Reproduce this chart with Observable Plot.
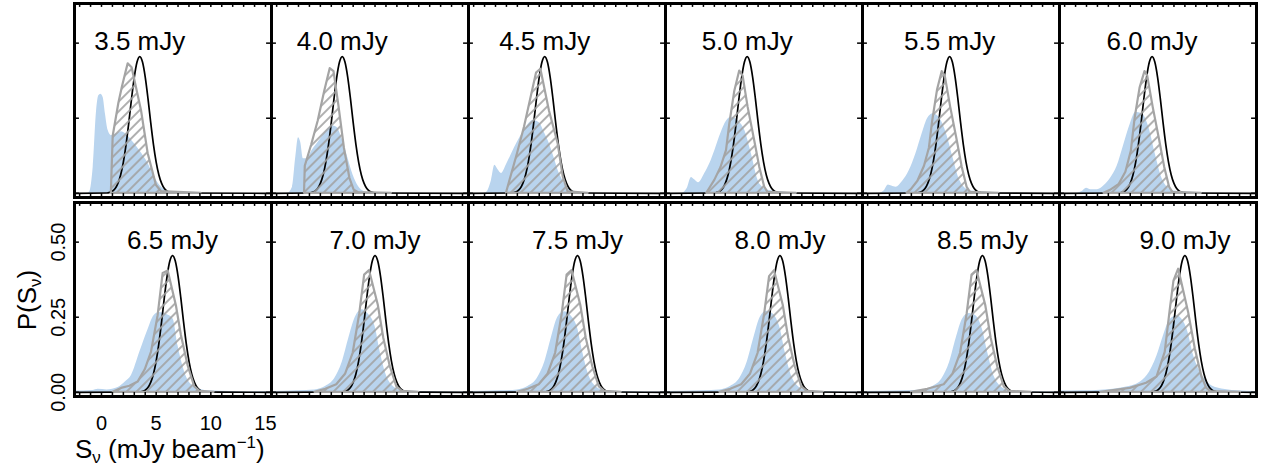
<!DOCTYPE html>
<html><head><meta charset="utf-8">
<script src="https://cdn.jsdelivr.net/npm/d3@7"></script>
<script src="https://cdn.jsdelivr.net/npm/@observablehq/plot@0.6"></script>
<style>body{margin:0;background:#fff;}</style>
</head><body><div id="chart"></div>
<script>
// ---------- data ----------
const fluxes = [3.5, 4.0, 4.5, 5.0, 5.5, 6.0, 6.5, 7.0, 7.5, 8.0, 8.5, 9.0];
const panelLabels = ["3.5 mJy","4.0 mJy","4.5 mJy","5.0 mJy","5.5 mJy","6.0 mJy","6.5 mJy","7.0 mJy","7.5 mJy","8.0 mJy","8.5 mJy","9.0 mJy"];
const xTickValues = [0, 5, 10, 15];
const yTickValues = [0, 0.25, 0.5];
const yTickLabels = ["0.00", "0.25", "0.50"];
const minorXTicks = [-2,-1,0,1,2,3,4,5,6,7,8,9,10,11,12,13,14,15];

// black model curve, read relative to the true flux
const modelOffsets = [-3,-2.75,-2.5,-2.25,-2,-1.75,-1.5,-1.25,-1,-0.75,-0.5,-0.25,0,0.25,0.5,0.75,1,1.25,1.5,1.75,2,2.25,2.5,2.75,3];
const modelValues  = [0.001,0.003,0.007,0.016,0.033,0.061,0.104,0.163,0.236,0.316,0.387,0.437,0.455,0.437,0.387,0.316,0.236,0.163,0.104,0.061,0.033,0.016,0.007,0.003,0.001];

// light-blue filled distributions [S, P]
const blue35 = [[-2.47,0],[-1.3,0],[-1.07,0.005],[-0.76,0.087],[-0.45,0.275],[-0.25,0.325],[-0.07,0.33],[0.15,0.319],[0.36,0.264],[0.61,0.209],[0.91,0.192],[1.37,0.198],[1.83,0.205],[2.44,0.19],[2.9,0.17],[3.5,0.142],[4.11,0.109],[4.57,0.076],[5.03,0.043],[5.48,0.021],[6.1,0.005],[6.8,0],[15.55,0]];
const blue40 = [[-2.47,0],[-1.0,0],[-0.55,0.02],[-0.25,0.12],[0.0,0.185],[0.2,0.17],[0.45,0.115],[0.8,0.115],[1.2,0.14],[1.7,0.165],[2.2,0.19],[2.7,0.215],[3.1,0.225],[3.5,0.22],[4.0,0.18],[4.5,0.12],[5.0,0.06],[5.5,0.022],[6.0,0.006],[6.8,0],[15.55,0]];
const blue45 = [[-2.47,0],[-1.2,0],[-0.83,0.003],[-0.37,0.043],[-0.06,0.093],[0.2,0.08],[0.55,0.066],[1.0,0.095],[1.46,0.13],[2.0,0.17],[2.65,0.21],[3.44,0.242],[4.0,0.235],[4.5,0.2],[4.93,0.165],[5.35,0.12],[5.73,0.076],[6.2,0.04],[6.64,0.016],[7.3,0.006],[7.86,0.003],[8.5,0],[15.55,0]];
const blue50 = [[-2.47,0],[-1.0,0],[-0.5,0.015],[-0.1,0.053],[0.2,0.045],[0.55,0.035],[1.12,0.066],[1.6,0.1],[2.04,0.142],[2.6,0.2],[3.1,0.24],[3.56,0.253],[4.2,0.24],[4.78,0.21],[5.39,0.131],[6.0,0.043],[6.5,0.018],[6.92,0.01],[8.7,0.003],[9.5,0],[15.55,0]];
const blue55 = [[-2.47,0],[-1.0,0],[-0.5,0.008],[-0.1,0.028],[0.2,0.024],[0.6,0.02],[1.2,0.04],[1.8,0.075],[2.4,0.13],[3.0,0.2],[3.5,0.25],[4.0,0.265],[4.6,0.25],[5.2,0.2],[5.8,0.12],[6.4,0.045],[6.9,0.018],[7.5,0.008],[9.5,0.003],[10.5,0],[15.55,0]];
const blue60 = [[-2.47,0],[-1.0,0],[-0.4,0.006],[0.0,0.017],[0.4,0.012],[1.0,0.012],[1.6,0.025],[2.2,0.05],[2.8,0.09],[3.4,0.16],[4.0,0.23],[4.5,0.27],[5.1,0.265],[5.7,0.22],[6.3,0.13],[6.9,0.05],[7.4,0.02],[8.0,0.008],[10,0.003],[11,0],[15.55,0]];
const blue65 = [[-2.47,0.004],[-0.8,0.006],[-0.3,0.01],[0.5,0.008],[1.52,0.016],[2.2,0.035],[2.74,0.056],[3.5,0.133],[4.27,0.21],[4.8,0.255],[5.3,0.266],[5.9,0.26],[6.55,0.244],[7.0,0.155],[7.61,0.067],[8.0,0.035],[8.53,0.018],[9.75,0.005],[12,0.003],[15.55,0.002]];
const blue70 = [[-2.47,0.003],[0,0.005],[1.5,0.008],[2.5,0.02],[3.3,0.045],[4.0,0.1],[4.6,0.18],[5.2,0.25],[5.8,0.275],[6.4,0.26],[7.0,0.22],[7.5,0.13],[8.0,0.06],[8.6,0.022],[9.3,0.008],[11,0.003],[15.55,0.002]];
const blue75 = [[-2.47,0.003],[0.5,0.005],[2,0.008],[3,0.02],[3.8,0.045],[4.5,0.1],[5.1,0.18],[5.7,0.25],[6.3,0.268],[6.9,0.255],[7.5,0.215],[8.0,0.13],[8.5,0.06],[9.1,0.022],[9.8,0.008],[11.5,0.003],[15.55,0.002]];
const blue80 = [[-2.47,0.003],[1,0.005],[2.5,0.008],[3.5,0.02],[4.3,0.045],[5.0,0.1],[5.6,0.18],[6.2,0.25],[6.8,0.27],[7.4,0.26],[8.0,0.215],[8.5,0.13],[9.0,0.06],[9.6,0.022],[10.3,0.008],[12,0.003],[15.55,0.002]];
const blue85 = [[-2.47,0.003],[1.5,0.005],[3,0.008],[4,0.02],[4.8,0.045],[5.5,0.1],[6.1,0.18],[6.7,0.245],[7.3,0.262],[7.9,0.255],[8.5,0.21],[9.0,0.13],[9.5,0.06],[10.1,0.022],[10.8,0.008],[12.5,0.003],[15.55,0.002]];
const blue90 = [[-2.47,0.004],[-0.3,0.005],[1.3,0.007],[4.0,0.02],[5.55,0.056],[6.45,0.122],[7.05,0.189],[7.6,0.24],[8.3,0.255],[8.8,0.24],[9.2,0.21],[9.8,0.122],[10.7,0.051],[11.9,0.015],[13.8,0.005],[15.55,0.003]];

// grey hatched distributions [S, P]
const hatch35 = [[0.9,0],[1.07,0.19],[1.59,0.3],[1.92,0.355],[2.29,0.41],[2.44,0.431],[2.8,0.418],[3.66,0.275],[4.27,0.132],[5.03,0.026],[5.48,0.006],[9.1,0]];
const hatch40 = [[0.55,0],[0.62,0.09],[1.2,0.16],[1.8,0.24],[2.4,0.34],[2.9,0.415],[3.25,0.405],[3.7,0.29],[4.2,0.15],[4.7,0.05],[5.1,0.01],[5.5,0.002],[8.5,0]];
const hatch45 = [[1.0,0],[1.28,0.037],[2.0,0.13],[2.65,0.22],[3.2,0.31],[3.75,0.40],[4.15,0.413],[4.93,0.275],[5.73,0.165],[6.2,0.054],[6.64,0.005],[8.47,0]];
const hatch50 = [[1.3,0],[1.58,0.016],[2.04,0.043],[2.6,0.085],[3.11,0.142],[3.41,0.23],[3.87,0.34],[4.32,0.407],[4.63,0.39],[5.09,0.286],[5.69,0.175],[6.15,0.087],[6.6,0.021],[6.9,0.003],[9.5,0]];
const hatch55 = [[1.6,0],[2.0,0.012],[2.6,0.04],[3.2,0.09],[3.65,0.15],[3.95,0.24],[4.4,0.345],[4.82,0.405],[5.1,0.39],[5.6,0.286],[6.2,0.175],[6.65,0.087],[7.1,0.02],[7.4,0.003],[10,0]];
const hatch60 = [[1.6,0],[2.2,0.01],[3.0,0.03],[3.6,0.07],[4.1,0.14],[4.45,0.25],[4.9,0.35],[5.35,0.405],[5.6,0.39],[6.1,0.286],[6.7,0.175],[7.15,0.087],[7.6,0.02],[7.9,0.003],[10.5,0]];
const hatch65 = [[1.07,0],[1.83,0.013],[2.6,0.02],[3.35,0.034],[4.0,0.075],[4.57,0.133],[5.18,0.255],[5.64,0.396],[6.1,0.404],[6.85,0.288],[7.31,0.189],[7.92,0.089],[8.53,0.018],[9.0,0.003],[10.3,0]];
const hatch70 = [[1.5,0],[2.5,0.01],[3.5,0.025],[4.3,0.06],[5.0,0.13],[5.6,0.26],[6.05,0.39],[6.5,0.405],[7.3,0.29],[7.8,0.18],[8.4,0.085],[9.0,0.018],[9.5,0.003],[11,0]];
const hatch75 = [[2,0],[3,0.01],[4,0.025],[4.8,0.06],[5.5,0.13],[6.1,0.26],[6.55,0.39],[7.0,0.405],[7.8,0.29],[8.3,0.18],[8.9,0.085],[9.5,0.018],[10.0,0.003],[11.5,0]];
const hatch80 = [[2.5,0],[3.5,0.01],[4.5,0.025],[5.3,0.06],[6.0,0.13],[6.6,0.26],[7.05,0.385],[7.5,0.405],[8.3,0.29],[8.8,0.18],[9.4,0.085],[10.0,0.018],[10.5,0.003],[12,0]];
const hatch85 = [[2,0],[3.5,0.01],[5,0.025],[5.8,0.06],[6.5,0.13],[7.1,0.26],[7.55,0.39],[8.0,0.405],[8.8,0.29],[9.3,0.18],[9.9,0.085],[10.5,0.018],[11.0,0.003],[13,0]];
const hatch90 = [[1.3,0],[4.0,0.013],[5.5,0.03],[6.45,0.051],[7.2,0.133],[7.67,0.277],[8.0,0.37],[8.43,0.41],[8.75,0.36],[9.34,0.266],[9.95,0.145],[10.56,0.051],[11.0,0.013],[11.4,0.002],[14.1,0]];

const blueSets  = [blue35, blue40, blue45, blue50, blue55, blue60, blue65, blue70, blue75, blue80, blue85, blue90];
const hatchSets = [hatch35, hatch40, hatch45, hatch50, hatch55, hatch60, hatch65, hatch70, hatch75, hatch80, hatch85, hatch90];

// ---------- layout constants ----------
const xDomain = [-2.47, 15.55];
const yDomain = [-0.014, 0.632];
const labelY = 0.477;
const xLabelY = -0.124;
const yLabelX = -3.384;

// ---------- table ----------
const rows = [];
fluxes.forEach((f, i) => {
  const col = i % 6, row = Math.floor(i / 6);
  blueSets[i].forEach(([x, y]) => rows.push({kind: "blue", col, row, x, y}));
  hatchSets[i].forEach(([x, y]) => rows.push({kind: "hatch", col, row, x, y}));
  rows.push({kind: "model", col, row, x: xDomain[0], y: 0});
  modelOffsets.forEach((o, j) => rows.push({kind: "model", col, row, x: f + o, y: modelValues[j]}));
  rows.push({kind: "model", col, row, x: xDomain[1], y: 0});
  rows.push({kind: "label", col, row, x: f, y: labelY, text: panelLabels[i]});
});
xTickValues.forEach(v => rows.push({kind: "xtick", col: 0, row: 1, x: v, y: xLabelY, text: String(v)}));
yTickValues.forEach((v, j) => rows.push({kind: "ytick", col: 0, row: 1, x: yLabelX, y: v, text: yTickLabels[j]}));

const is = k => d => d.kind === k;

const svg = Plot.plot({
  width: 1261,
  height: 468,
  marginLeft: 73,
  marginRight: 5,
  marginTop: 3,
  marginBottom: 71,
  style: {fontFamily: "Liberation Sans, Arial, Helvetica, sans-serif", background: "white", color: "black"},
  facet: {data: rows, x: "col", y: "row", marginTop: 0, marginRight: 0, marginBottom: 0, marginLeft: 0},
  fx: {domain: [0,1,2,3,4,5], paddingInner: 0, paddingOuter: 0, axis: null},
  fy: {domain: [0,1], paddingInner: 0.025, paddingOuter: 0, axis: null},
  x: {domain: xDomain, axis: null},
  y: {domain: yDomain, axis: null},
  marks: [
    Plot.areaY(rows, {filter: is("blue"), x: "x", y: "y", fill: "#b9d4ee", curve: "monotone-x"}),
    Plot.line(rows, {filter: is("model"), x: "x", y: "y", stroke: "black", strokeWidth: 1.7, curve: "monotone-x"}),
    Plot.areaY(rows, {filter: is("hatch"), x: "x", y: "y", fill: "url(#hatch)", stroke: "#a4a4a4", strokeWidth: 2.2}),
    Plot.ruleX(minorXTicks, {x: d => d, y1: () => yDomain[0], y2: () => yDomain[0] + 0.013, stroke: "black", strokeWidth: 1.5}),
    Plot.ruleX(minorXTicks, {x: d => d, y1: () => yDomain[1], y2: () => yDomain[1] - 0.013, stroke: "black", strokeWidth: 1.5}),
    Plot.ruleY(yTickValues, {y: d => d, x1: () => xDomain[0], x2: () => xDomain[0] + 0.45, stroke: "black", strokeWidth: 1.5}),
    Plot.ruleY(yTickValues, {y: d => d, x1: () => xDomain[1] - 0.45, x2: () => xDomain[1], stroke: "black", strokeWidth: 1.5}),
    Plot.frame({stroke: "black", strokeWidth: 3}),
    Plot.text(rows, {filter: is("label"), x: "x", y: "y", text: "text", fontSize: 26, textAnchor: "middle", lineAnchor: "bottom", fill: "black"}),
    Plot.text(rows, {filter: is("xtick"), x: "x", y: "y", text: "text", fontSize: 20, textAnchor: "middle", lineAnchor: "bottom", fill: "black"}),
    Plot.text(rows, {filter: is("ytick"), x: "x", y: "y", text: "text", fontSize: 20, rotate: -90, textAnchor: "middle", lineAnchor: "bottom", fill: "black"})
  ]
});

const s = d3.select(svg);
s.insert("defs", ":first-child").html(
  '<pattern id="hatch" patternUnits="userSpaceOnUse" width="7" height="7" patternTransform="rotate(45)">' +
  '<line x1="1" y1="0" x2="1" y2="7" stroke="#a2a2a2" stroke-width="1.7"/></pattern>');

// axis titles
const xt = s.append("text").attr("x", 75).attr("y", 458).attr("text-anchor", "start")
  .attr("font-size", 26).attr("fill", "black")
  .style("font-family", "Liberation Sans, Arial, sans-serif");
xt.append("tspan").text("S");
xt.append("tspan").attr("dy", 5).attr("font-size", 17).text("ν");
xt.append("tspan").attr("dy", -5).text(" (mJy beam");
xt.append("tspan").attr("dy", -10).attr("font-size", 17).text("−1");
xt.append("tspan").attr("dy", 10).text(")");

const yt = s.append("text").attr("transform", "translate(36,300) rotate(-90)").attr("text-anchor", "middle")
  .attr("font-size", 26).attr("fill", "black").style("font-family", "Liberation Sans, Arial, sans-serif");
yt.append("tspan").text("P(S");
yt.append("tspan").attr("dy", 5).attr("font-size", 17).text("ν");
yt.append("tspan").attr("dy", -5).text(")");

document.getElementById("chart").appendChild(svg);
</script>
</body></html>
